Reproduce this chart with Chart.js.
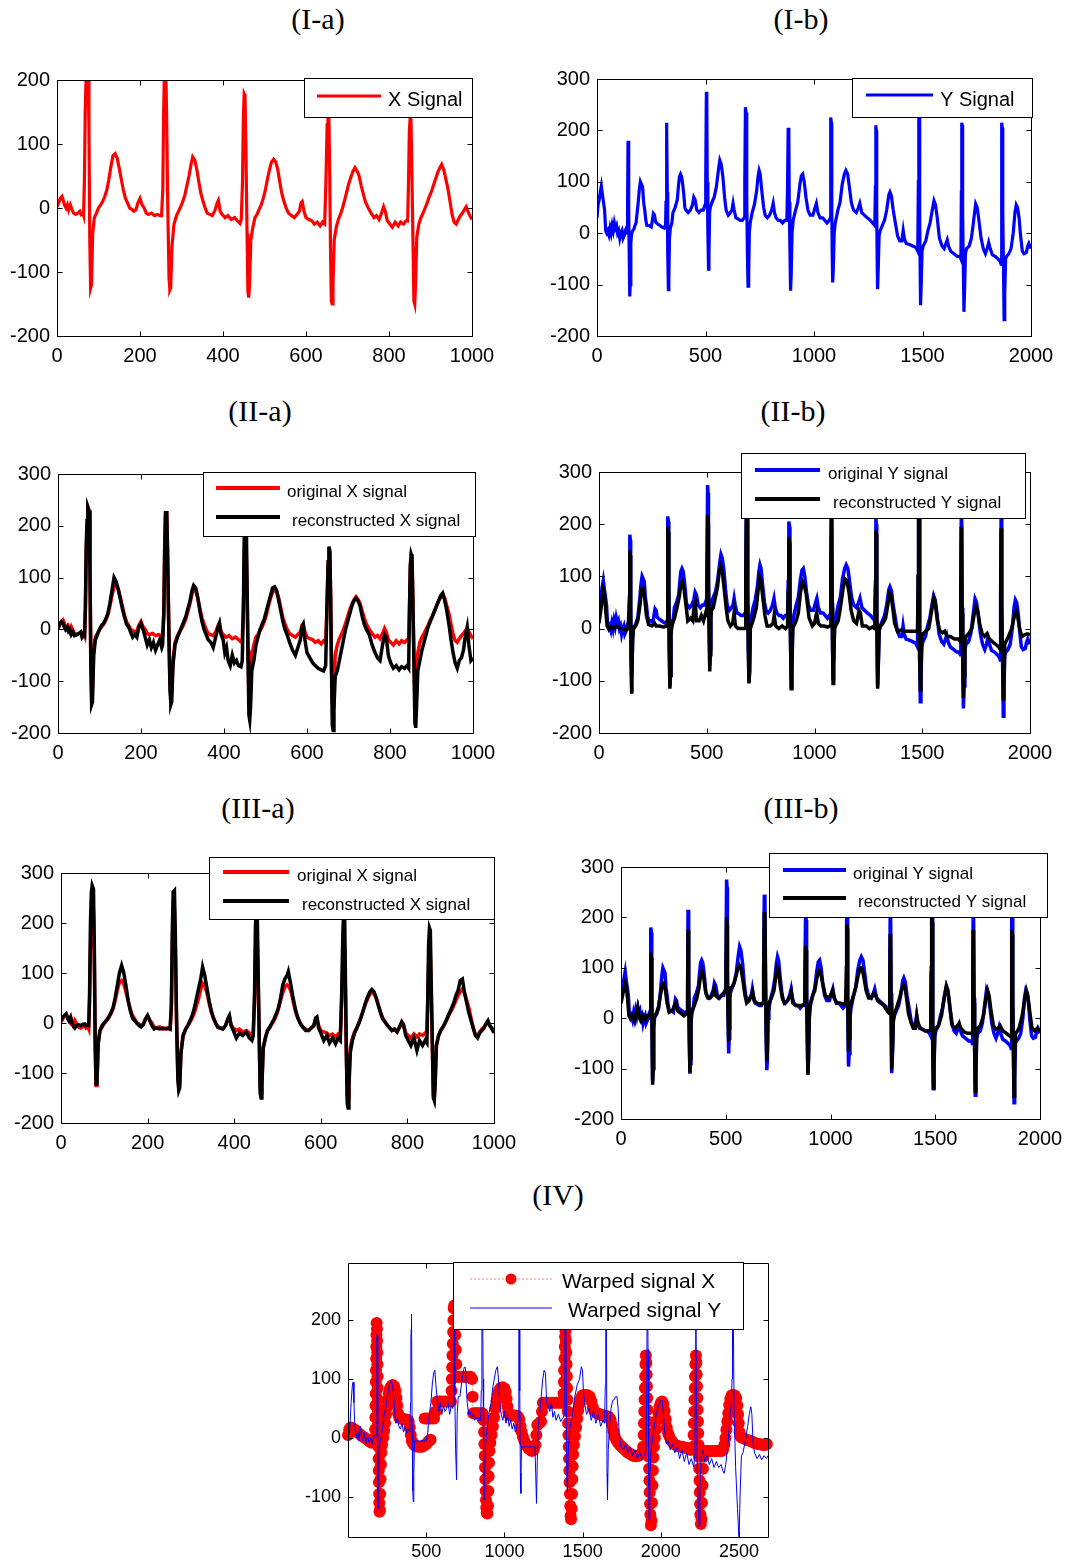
<!DOCTYPE html>
<html><head><meta charset="utf-8">
<script src="https://cdn.jsdelivr.net/npm/chart.js@4.4.1/dist/chart.umd.min.js"></script>
<style>
html,body{margin:0;padding:0;background:#fff;width:1067px;height:1561px;overflow:hidden;position:relative;}
canvas{position:absolute;}
.ttl{position:absolute;width:200px;text-align:center;font-family:"Liberation Serif","Times New Roman",serif;font-size:30px;line-height:34px;color:#000;}
</style></head><body>
<div class="ttl" style="left:218px;top:2px">(I-a)</div>
<div class="ttl" style="left:701px;top:2px">(I-b)</div>
<div class="ttl" style="left:160px;top:394px">(II-a)</div>
<div class="ttl" style="left:693px;top:394px">(II-b)</div>
<div class="ttl" style="left:158px;top:791px">(III-a)</div>
<div class="ttl" style="left:701px;top:791px">(III-b)</div>
<div class="ttl" style="left:458px;top:1178px">(IV)</div>
<script>
// ---------------- DATA ----------------
const xTicks1000 = [0, 200, 400, 600, 800, 1000];
const xTicks2000 = [0, 500, 1000, 1500, 2000];
const yTicks200 = [-200, -100, 0, 100, 200];
const yTicks300 = [-200, -100, 0, 100, 200, 300];
const warpXTicks = [500, 1000, 1500, 2000, 2500];
const warpYTicks = [-100, 0, 100, 200];

// original X signal
const xSignal = [[0,2],[4,8],[8,15],[12,18],[15,12],[18,5],[22,0],[25,5],[28,-3],[32,5],[36,-2],[40,-8],[45,-10],[50,-8],[55,-5],[58,-10],[62,-8],
[64,-12],[66,40],[68,150],[70,200],[72,232],[75,225],[77,120],[79,-50],[81,-125],[83,-120],[86,-40],[90,-15],
[95,-8],[100,0],[105,5],[110,10],[115,18],[120,28],[125,45],[130,65],[135,82],[140,85],[145,78],[150,62],[155,45],[160,28],[165,15],[170,8],[175,0],[180,-2],[185,-5],[190,-3],[195,8],[200,15],[205,5],[210,0],[215,-8],[220,-10],[228,-8],[235,-12],[242,-10],[248,-12],[252,-12],
[255,30],[257,150],[259,220],[262,222],[264,150],[267,0],[270,-110],[272,-128],[274,-125],[277,-60],[282,-25],
[288,-12],[293,-5],[298,2],[303,10],[308,20],[313,35],[318,50],[323,68],[327,80],[332,75],[337,60],[342,40],[347,22],[352,10],[357,0],[362,-8],[368,-10],[374,-12],[380,-5],[386,8],[389,12],[393,-5],[398,-10],[405,-15],[412,-12],[420,-18],[428,-15],[435,-20],[441,-24],[444,-18],
[447,40],[449,140],[451,178],[453,175],[455,100],[458,-40],[460,-130],[462,-140],[464,-120],[467,-50],[472,-30],
[477,-15],[482,-10],[487,-2],[492,5],[497,15],[502,28],[507,45],[512,60],[517,72],[522,76],[527,72],[532,60],[537,40],[542,22],[547,10],[552,0],[558,-8],[565,-12],[572,-15],[578,-10],[584,-5],[588,8],[591,10],[595,-5],[600,-15],[607,-18],[614,-20],[620,-25],[627,-22],[634,-28],[640,-22],[645,-25],
[648,40],[651,130],[653,158],[655,150],[657,60],[659,-60],[661,-145],[663,-150],[665,-120],[668,-50],[673,-30],
[678,-18],[683,-10],[688,0],[693,12],[698,25],[703,38],[708,48],[713,57],[718,63],[723,58],[728,50],[733,35],[738,22],[743,10],[750,0],[757,-8],[764,-15],[770,-12],[776,-18],[782,-8],[787,2],[791,-5],[796,-20],[802,-25],[808,-30],[815,-22],[822,-28],[828,-22],[835,-25],[841,-20],[845,-20],
[847,40],[849,120],[851,140],[853,135],[855,60],[858,-60],[860,-145],[862,-150],[864,-120],[867,-45],[872,-25],
[877,-15],[882,-8],[887,0],[892,8],[897,18],[902,25],[907,35],[912,45],[917,55],[922,62],[927,68],[932,60],[937,45],[942,30],[947,10],[952,-10],[957,-22],[962,-25],[967,-18],[972,-12],[977,-8],[982,-2],[986,2],[990,-5],[995,-12],[1000,-18]];

// original Y signal
const ySignal = [[0,30],[5,55],[10,65],[15,80],[20,92],[25,75],[30,60],[35,45],[40,5],[45,0],[50,5],[55,-3],[60,10],[65,0],[70,15],[75,5],[80,20],[85,10],[90,15],[95,0],[100,5],[105,-10],[110,0],[115,5],[120,-10],[125,-5],[130,5],[135,10],[139,0],
[141,60],[143,180],[145,170],[147,50],[149,-60],[151,-123],[153,-100],[156,-20],[160,0],
[165,5],[170,8],[175,15],[180,20],[185,40],[190,60],[195,85],[200,100],[205,95],[210,90],[215,60],[220,45],[225,25],[230,15],[240,15],[250,12],[255,25],[260,38],[265,35],[270,22],[280,18],[290,15],[300,12],[310,10],[316,15],
[318,60],[320,215],[322,205],[324,80],[326,-40],[329,-110],[331,-90],[334,-10],[338,10],
[345,20],[350,40],[360,50],[370,65],[375,90],[380,110],[385,115],[390,110],[395,95],[400,75],[405,50],[410,45],[420,40],[430,45],[440,55],[446,70],[452,65],[460,45],[470,40],[480,45],[490,45],[498,55],
[501,100],[504,275],[506,260],[508,100],[511,0],[514,-70],[516,-40],[519,40],[522,50],
[530,60],[540,70],[550,90],[560,125],[566,142],[572,135],[580,110],[588,70],[595,45],[605,35],[615,40],[622,45],[627,58],[632,45],[640,30],[650,28],[660,25],[670,25],[678,30],
[681,100],[684,245],[687,235],[690,80],[693,-40],[696,-103],[699,-80],[702,0],[706,20],
[715,40],[725,55],[735,80],[742,110],[747,122],[752,115],[760,80],[768,50],[775,35],[785,30],[795,35],[805,45],[812,58],[818,40],[825,30],[835,25],[845,25],[855,20],[865,25],[875,25],
[878,90],[881,205],[884,195],[886,60],[889,-30],[892,-112],[895,-80],[899,0],[904,25],
[915,45],[925,60],[935,95],[942,112],[948,115],[955,100],[963,70],[972,45],[982,35],[995,35],[1005,50],[1011,58],[1018,40],[1028,30],[1040,30],[1050,25],[1060,20],[1070,25],[1075,30],
[1076,120],[1078,225],[1080,215],[1082,50],[1084,-40],[1086,-96],[1089,-70],[1093,0],[1098,20],
[1110,45],[1120,60],[1130,95],[1140,115],[1147,122],[1155,115],[1163,90],[1172,60],[1182,45],[1195,40],[1205,50],[1211,58],[1220,40],[1232,35],[1245,30],[1260,25],[1270,20],[1280,15],
[1283,90],[1285,210],[1287,200],[1289,50],[1291,-50],[1293,-109],[1296,-70],[1300,-5],[1305,5],
[1315,15],[1325,25],[1335,45],[1345,75],[1350,80],[1357,72],[1365,45],[1375,20],[1385,-5],[1395,-15],[1405,-15],[1411,5],[1416,-10],[1425,-20],[1440,-22],[1455,-25],[1470,-28],[1478,-35],
[1481,100],[1483,235],[1485,225],[1487,40],[1489,-60],[1491,-140],[1494,-100],[1498,-35],[1503,-25],
[1515,-15],[1525,5],[1535,20],[1545,45],[1553,63],[1560,55],[1568,30],[1578,-10],[1590,-25],[1600,-30],[1608,-20],[1614,-13],[1620,-25],[1630,-35],[1645,-40],[1660,-45],[1672,-45],[1677,-50],
[1679,80],[1681,215],[1683,210],[1685,40],[1688,-60],[1691,-153],[1694,-110],[1698,-40],[1703,-30],
[1715,-25],[1725,-10],[1733,15],[1740,40],[1745,57],[1752,50],[1760,25],[1770,-10],[1780,-30],[1790,-40],[1798,-30],[1805,-18],[1812,-30],[1822,-42],[1835,-45],[1848,-50],[1858,-55],[1862,-60],
[1864,80],[1866,215],[1868,205],[1870,40],[1873,-60],[1876,-168],[1879,-120],[1883,-50],[1888,-45],
[1898,-40],[1908,-30],[1918,0],[1926,40],[1932,55],[1938,50],[1945,30],[1952,-5],[1960,-35],[1968,-40],[1978,-38],[1985,-25],[1990,-20],[1995,-25],[2000,-30]];

// reconstructed X signal, panel II-a
const xRecon2 = [[0,2],[4,10],[8,15],[12,12],[15,5],[18,0],[22,5],[25,-3],[28,0],[32,-10],[36,-5],[40,-12],[45,-10],[50,-8],[55,-5],[58,-15],[62,-10],
[64,-12],[66,40],[68,160],[70,210],[72,237],[75,230],[77,120],[79,-60],[81,-145],[83,-140],[86,-50],[90,-20],
[95,-10],[100,0],[105,8],[110,12],[115,20],[120,30],[125,50],[130,75],[135,100],[140,92],[145,78],[150,60],[155,40],[160,25],[165,10],[170,5],[175,-5],[180,-15],[185,-10],[190,-15],[195,5],[200,12],[205,0],[210,-15],[215,-30],[220,-20],[225,-35],[230,-25],[235,-40],[240,-30],[245,-20],[250,-35],[252,-30],
[255,30],[257,150],[259,225],[262,225],[264,150],[267,0],[270,-120],[272,-145],[274,-140],[277,-70],[282,-30],
[288,-15],[293,-5],[298,5],[303,15],[308,25],[313,40],[318,55],[323,75],[327,85],[332,80],[337,60],[342,35],[347,15],[352,0],[357,-10],[362,-20],[368,-25],[374,-35],[380,-15],[386,5],[389,12],[393,-10],[398,-20],[402,-45],[406,-35],[410,-60],[415,-70],[420,-50],[425,-65],[430,-60],[435,-70],[441,-72],[444,-60],
[447,60],[449,200],[451,265],[453,260],[455,120],[458,-60],[460,-165],[462,-175],[464,-150],[467,-80],[472,-60],
[477,-30],[482,-15],[487,0],[492,10],[497,20],[502,35],[507,50],[512,65],[517,80],[522,82],[527,75],[532,55],[537,35],[542,15],[547,0],[552,-10],[558,-25],[565,-40],[572,-50],[578,-35],[584,-20],[588,5],[591,10],[595,-20],[600,-45],[607,-55],[614,-65],[620,-70],[627,-75],[634,-78],[640,-80],[645,-70],
[648,40],[651,130],[653,160],[655,150],[657,60],[659,-80],[661,-185],[663,-195],[665,-150],[668,-90],[673,-80],
[678,-60],[683,-40],[688,-20],[693,0],[698,15],[703,30],[708,45],[713,55],[718,60],[723,55],[728,45],[733,25],[738,10],[743,0],[750,-10],[757,-30],[764,-45],[770,-55],[776,-60],[782,-30],[787,-10],[791,-15],[796,-50],[802,-65],[808,-75],[815,-70],[822,-78],[828,-72],[835,-75],[841,-70],[845,-75],
[847,40],[849,125],[851,145],[853,140],[855,60],[858,-80],[860,-180],[862,-190],[864,-150],[867,-80],[872,-60],
[877,-40],[882,-25],[887,-10],[892,5],[897,15],[902,25],[907,35],[912,45],[917,55],[922,65],[927,70],[932,55],[937,35],[942,10],[947,-20],[952,-45],[957,-65],[962,-75],[967,-60],[972,-55],[977,-40],[982,-10],[986,5],[990,-30],[995,-60],[1000,-55]];

// reconstructed Y signal, panel II-b
const yRecon2 = [[0,10],[10,40],[20,75],[25,70],[32,30],[38,5],[45,0],[55,3],[65,0],[80,5],[95,0],[110,0],[125,-3],[135,0],[139,0],
[141,50],[143,150],[145,140],[147,40],[149,-60],[151,-125],[153,-100],[156,-20],[160,0],
[170,5],[180,15],[190,45],[198,75],[205,78],[212,60],[220,25],[230,8],[245,5],[258,10],[265,5],[280,5],[300,3],[316,5],
[318,50],[320,195],[322,185],[324,70],[326,-40],[329,-115],[331,-90],[334,-10],[338,5],
[350,20],[362,40],[372,60],[380,85],[387,90],[395,75],[405,40],[412,15],[425,20],[435,15],[442,45],[447,50],[452,15],[465,15],[475,25],[485,15],[495,30],[498,25],
[501,90],[504,218],[506,200],[508,80],[511,0],[514,-82],[516,-50],[519,20],[522,35],
[530,40],[540,60],[550,80],[558,110],[565,120],[572,110],[580,80],[590,40],[598,15],[610,5],[620,10],[627,30],[633,5],[645,0],[660,0],[678,0],
[681,90],[684,230],[687,220],[690,60],[693,-40],[696,-105],[699,-80],[702,0],[706,5],
[718,20],[730,40],[740,80],[745,97],[752,90],[760,60],[770,25],[780,5],[795,5],[808,10],[813,25],[820,5],[835,0],[850,5],[865,0],[875,5],
[878,70],[881,175],[884,165],[886,50],[889,-30],[892,-115],[895,-80],[899,0],[904,5],
[915,15],[925,30],[935,70],[945,90],[952,85],[962,65],[975,20],[990,5],[1000,10],[1010,30],[1018,10],[1030,5],[1045,5],[1060,3],[1072,5],
[1076,110],[1078,215],[1080,205],[1082,40],[1084,-40],[1086,-105],[1089,-70],[1093,0],[1098,5],
[1110,15],[1120,40],[1132,75],[1142,95],[1150,92],[1160,70],[1170,35],[1182,15],[1195,10],[1207,35],[1213,30],[1222,5],[1240,5],[1255,0],[1270,3],[1280,0],
[1283,80],[1285,188],[1287,180],[1289,40],[1291,-50],[1293,-115],[1296,-70],[1300,-5],[1305,5],
[1315,8],[1330,20],[1340,45],[1348,68],[1355,65],[1363,40],[1372,10],[1385,-5],[1400,-3],[1415,-5],[1430,-5],[1450,-5],[1470,-5],[1478,-5],
[1481,100],[1483,240],[1485,230],[1487,40],[1489,-60],[1491,-117],[1494,-80],[1498,-15],[1503,-10],
[1515,-5],[1530,0],[1542,30],[1553,58],[1560,50],[1570,15],[1582,-5],[1595,-8],[1605,-5],[1615,-15],[1630,-15],[1650,-20],[1668,-20],[1677,-25],
[1679,80],[1681,195],[1683,185],[1685,30],[1688,-60],[1691,-133],[1694,-90],[1698,-25],[1703,-15],
[1715,-10],[1730,0],[1742,30],[1750,42],[1757,35],[1766,10],[1778,-10],[1790,-15],[1800,-10],[1812,-20],[1825,-25],[1840,-30],[1855,-35],[1862,-40],
[1864,70],[1866,192],[1868,180],[1870,30],[1873,-60],[1876,-135],[1879,-90],[1883,-30],[1888,-25],
[1900,-15],[1915,0],[1928,25],[1935,33],[1942,25],[1952,0],[1962,-15],[1975,-12],[1988,-10],[2000,-12]];

// reconstructed X signal, panel III-a
const xRecon3 = [[0,5],[4,12],[8,15],[12,18],[15,10],[18,5],[22,12],[25,0],[28,-5],[32,-10],[36,-5],[40,-3],[45,-5],[50,-3],[55,-2],[58,-5],[62,-5],
[64,-5],[66,60],[68,200],[70,260],[72,275],[75,268],[77,150],[79,-40],[81,-122],[83,-120],[86,-40],[90,-15],
[95,-5],[100,0],[105,5],[110,12],[115,20],[120,30],[125,50],[130,75],[135,100],[140,115],[145,100],[150,75],[155,45],[160,25],[165,10],[170,5],[175,0],[180,-5],[185,-8],[190,-3],[195,8],[200,15],[205,5],[210,-5],[215,-12],[220,-10],[228,-12],[235,-10],[242,-12],[248,-10],[252,-12],
[255,40],[257,180],[259,262],[262,265],[264,180],[267,0],[270,-115],[272,-135],[274,-130],[277,-60],[282,-25],
[288,-12],[293,-5],[298,5],[303,15],[308,30],[313,50],[318,70],[323,90],[327,112],[332,95],[337,70],[342,45],[347,25],[352,10],[357,0],[362,-8],[368,-10],[374,-12],[380,-5],[386,10],[389,15],[393,-5],[398,-15],[405,-30],[412,-20],[420,-25],[428,-18],[435,-30],[441,-35],[444,-25],
[447,60],[449,190],[451,240],[453,235],[455,120],[458,-40],[460,-140],[462,-150],[464,-125],[467,-50],[472,-30],
[477,-15],[482,-8],[487,0],[492,8],[497,18],[502,30],[507,50],[512,75],[517,88],[522,95],[525,103],[530,80],[535,55],[542,25],[547,10],[552,0],[558,-8],[565,-15],[572,-15],[578,-10],[584,-5],[588,10],[591,12],[595,-10],[600,-20],[607,-35],[614,-25],[620,-40],[627,-30],[634,-42],[640,-30],[645,-35],
[648,50],[651,180],[653,230],[655,220],[657,80],[659,-60],[661,-160],[663,-170],[665,-130],[668,-60],[673,-35],
[678,-20],[683,-10],[688,0],[693,12],[698,25],[703,40],[708,52],[713,62],[718,67],[723,62],[728,50],[733,35],[738,20],[743,8],[750,0],[757,-8],[764,-15],[770,-12],[776,-18],[782,-8],[787,2],[791,-3],[796,-25],[802,-35],[808,-45],[815,-30],[822,-55],[828,-35],[835,-45],[841,-35],[845,-40],
[847,50],[849,160],[851,190],[853,185],[855,80],[858,-60],[860,-150],[862,-155],[864,-125],[867,-45],[872,-25],
[877,-15],[882,-8],[887,0],[892,10],[897,20],[902,30],[907,40],[912,55],[917,65],[922,85],[927,88],[932,60],[937,40],[942,20],[947,5],[952,-10],[957,-25],[962,-30],[967,-20],[972,-15],[977,-10],[982,0],[986,5],[990,-5],[995,-10],[1000,-20]];

// reconstructed Y signal, panel III-b
const yRecon3 = [[0,30],[10,50],[20,70],[25,65],[32,35],[38,5],[45,0],[55,5],[65,-5],[75,15],[80,22],[88,0],[95,-5],[105,5],[115,-3],[125,5],[135,5],[139,10],
[141,50],[143,130],[145,120],[147,30],[149,-60],[151,-132],[153,-100],[156,-15],[160,5],
[170,10],[180,25],[190,50],[198,68],[205,70],[212,55],[220,30],[230,12],[245,15],[255,25],[262,30],[270,15],[285,10],[300,5],[316,10],
[318,50],[320,176],[322,165],[324,60],[326,-40],[329,-108],[331,-80],[334,-5],[338,15],
[350,25],[362,40],[372,60],[380,85],[387,93],[395,80],[405,50],[415,40],[425,40],[435,45],[445,58],[452,45],[465,40],[478,45],[490,50],[498,55],
[501,90],[504,200],[506,185],[508,70],[511,10],[514,-46],[516,-20],[519,50],[522,60],
[530,62],[540,70],[550,85],[558,100],[565,105],[572,100],[582,75],[592,45],[600,30],[612,35],[622,45],[628,52],[635,35],[648,30],[662,28],[678,30],
[681,90],[684,210],[687,200],[690,60],[693,-30],[696,-85],[699,-60],[702,20],[706,30],
[718,40],[730,55],[740,85],[745,100],[752,95],[760,65],[770,40],[780,30],[795,35],[808,45],[813,52],[820,30],[835,25],[850,25],[865,25],[875,28],
[878,70],[881,143],[884,135],[886,40],[889,-30],[892,-112],[895,-80],[899,10],[904,30],
[915,45],[925,55],[935,80],[945,95],[952,92],[962,70],[975,45],[990,40],[1000,45],[1010,55],[1018,40],[1030,30],[1045,30],[1060,28],[1072,30],
[1076,100],[1078,186],[1080,178],[1082,40],[1084,-20],[1086,-66],[1089,-40],[1093,20],[1098,30],
[1110,45],[1120,60],[1132,85],[1142,100],[1150,100],[1160,80],[1170,55],[1182,40],[1195,40],[1207,50],[1213,48],[1225,35],[1240,30],[1255,25],[1270,15],[1280,10],
[1283,70],[1285,167],[1287,158],[1289,30],[1291,-40],[1293,-102],[1296,-60],[1300,-5],[1305,10],
[1315,20],[1330,40],[1340,58],[1348,66],[1355,62],[1363,40],[1372,10],[1385,-10],[1395,-20],[1405,-20],[1412,5],[1418,-10],[1430,-20],[1450,-25],[1470,-25],[1478,-25],
[1481,90],[1483,200],[1485,190],[1487,40],[1489,-60],[1491,-138],[1494,-90],[1498,-25],[1503,-20],
[1515,-15],[1530,5],[1542,40],[1553,64],[1560,55],[1570,20],[1582,-15],[1595,-20],[1605,-15],[1614,-10],[1622,-20],[1640,-28],[1655,-30],[1668,-30],[1677,-32],
[1679,70],[1681,175],[1683,165],[1685,30],[1688,-60],[1691,-145],[1694,-90],[1698,-25],[1703,-20],
[1715,-15],[1730,5],[1742,40],[1750,55],[1757,45],[1766,15],[1778,-15],[1790,-22],[1800,-20],[1810,-15],[1822,-25],[1840,-30],[1855,-35],[1862,-38],
[1864,70],[1866,175],[1868,165],[1870,30],[1873,-60],[1876,-155],[1879,-90],[1883,-30],[1888,-28],
[1900,-20],[1915,5],[1928,40],[1935,55],[1942,45],[1952,10],[1962,-20],[1975,-25],[1988,-20],[2000,-25]];

// warped signal X (markers), panel IV
const warpX = [[0,5],[8,15],[18,18],[30,16],[42,14],[55,12],[68,8],[82,5],[96,2],[110,0],[124,-3],[138,-6],[150,-8],[160,-6],[170,0],
[174,15],[175,35],[176,55],[177,75],[178,95],[179,115],[180,135],[181,155],[182,175],[183,195],[185,185],[186,165],[187,145],[188,125],[189,105],[190,85],[191,65],[192,45],[193,25],[194,5],[195,-15],[196,-35],[197,-55],[198,-75],[199,-95],[200,-110],[201,-125],[204,-122],
[206,-95],[208,-70],[210,-45],[213,-25],[218,-12],[225,0],[231,12],[237,25],[243,40],[249,52],[255,65],[261,76],[268,84],[276,88],[285,90],[295,88],[304,80],[310,68],[315,55],[320,42],[327,35],[340,33],[353,32],[366,32],[378,31],[388,28],[395,18],[401,5],[408,-5],[418,-10],[430,-13],[444,-15],[458,-15],[472,-15],[486,-13],[500,-10],[514,-6],[528,-3],
[490,33],[505,33],[520,33],[535,33],[550,33],[560,45],
[570,62],[585,62],[600,62],[615,62],[630,62],[645,62],[658,62],
[662,80],[664,100],[666,120],[668,140],[670,160],[672,180],[674,200],[676,220],[679,225],[683,200],[686,175],[689,150],[692,125],[695,104],
[705,104],[718,104],[731,104],[744,104],[757,104],[770,104],[783,104],[793,100],
[797,70],[800,42],[812,42],[824,42],[836,42],[848,42],[860,42],[868,30],
[870,10],[872,-10],[874,-30],[876,-50],[878,-70],[880,-90],[882,-105],[884,-118],[887,-127],[891,-128],[895,-115],
[897,-90],[899,-65],[901,-42],[904,-22],[910,-8],[918,5],[926,20],[934,35],[942,50],[950,63],[958,74],[966,81],[976,85],[988,86],[1000,84],[1008,78],[1014,66],[1019,54],[1025,44],[1033,39],[1046,38],[1059,38],[1072,38],[1085,37],[1095,32],[1103,20],[1110,10],[1118,2],[1128,-5],[1140,-12],[1152,-17],[1164,-20],[1176,-22],[1188,-20],[1198,-12],[1204,5],[1210,22],[1222,25],[1234,28],[1240,45],[1246,60],[1260,60],[1274,60],[1288,60],[1302,60],[1316,60],[1330,60],[1344,60],[1358,60],[1372,60],
[1378,75],[1380,95],[1382,115],[1384,135],[1386,155],[1388,172],[1390,182],[1393,165],[1395,145],[1397,125],[1399,105],[1401,85],[1403,65],[1405,45],[1407,25],[1409,5],[1411,-15],[1413,-35],[1415,-55],[1417,-75],[1419,-95],[1421,-115],[1423,-132],[1426,-138],[1430,-120],
[1432,-95],[1434,-70],[1436,-48],[1439,-28],[1444,-12],[1451,3],[1458,18],[1465,33],[1472,47],[1480,58],[1488,67],[1498,72],[1510,73],[1522,73],[1534,72],[1546,70],[1556,62],[1565,52],[1575,46],[1588,43],[1601,41],[1614,40],[1627,38],[1640,38],[1653,37],[1666,36],[1678,32],[1688,22],[1696,12],[1704,3],[1714,-3],[1726,-8],[1738,-12],[1750,-15],[1762,-18],[1774,-21],[1786,-24],[1798,-26],[1810,-28],[1822,-30],[1834,-31],[1846,-31],[1858,-30],[1870,-28],[1880,-25],[1887,-15],
[1890,5],[1892,25],[1894,45],[1896,65],[1898,85],[1900,105],[1902,125],[1904,140],[1907,128],[1909,108],[1911,88],[1913,68],[1915,48],[1917,28],[1919,8],[1921,-12],[1923,-32],[1925,-52],[1927,-72],[1929,-92],[1931,-112],[1933,-130],[1936,-148],[1940,-140],
[1943,-110],[1946,-80],[1949,-55],[1952,-33],[1956,-15],[1962,0],[1969,15],[1976,30],[1984,43],[1992,54],[2000,60],[2008,62],[2016,58],[2024,46],[2031,32],[2038,18],[2046,8],[2055,2],[2066,-4],[2078,-8],[2090,-11],[2102,-13],[2114,-14],[2126,-15],[2138,-15],[2150,-16],[2162,-17],[2174,-18],[2186,-20],[2198,-20],[2206,-15],
[2209,5],[2211,25],[2213,45],[2215,65],[2217,85],[2219,105],[2221,125],[2224,140],[2227,128],[2229,108],[2231,88],[2233,68],[2235,48],[2237,28],[2239,8],[2241,-12],[2243,-32],[2245,-52],[2247,-72],[2249,-92],[2251,-112],[2253,-130],[2256,-146],[2260,-138],
[2263,-110],[2266,-80],[2269,-52],[2273,-32],[2280,-22],[2292,-22],[2304,-22],[2316,-22],[2328,-22],[2340,-22],[2352,-22],[2364,-22],[2376,-22],[2388,-22],[2398,-20],[2406,-12],[2413,0],[2419,14],[2425,28],[2431,42],[2437,56],[2444,66],[2452,72],[2462,73],[2472,72],[2482,68],[2489,55],[2494,40],[2498,25],[2503,10],[2510,2],[2522,0],[2534,-1],[2546,-3],[2558,-4],[2570,-5],[2582,-6],[2594,-8],[2606,-9],[2618,-10],[2630,-10],[2642,-11],[2654,-12],[2666,-12],[2678,-10]];

// warped signal Y (thin line), panel IV
const warpY = [[0,0],[10,10],[20,60],[28,90],[33,95],[38,60],[42,30],[48,10],[55,0],[62,15],[70,-5],[78,20],[85,5],[95,-5],[105,10],[115,-10],[125,5],[135,-8],[145,0],[155,-10],[165,5],[175,0],[183,10],[185,175],[187,175],[190,-110],[193,-120],[197,-60],[200,-20],[205,-5],[212,0],[222,20],[232,40],[245,55],[255,75],[265,90],[272,97],[280,95],[290,80],[300,40],[306,25],[315,35],[325,20],[335,15],[345,25],[355,10],[365,20],[375,8],[385,15],[395,10],[400,60],[402,170],[404,185],[406,210],[410,20],[414,-90],[417,-108],[421,-60],[425,-5],[440,-5],[460,-5],[480,-5],[500,-5],[510,10],[520,40],[530,60],[540,95],[548,110],[555,115],[562,90],[572,60],[582,45],[590,60],[600,40],[610,55],[620,45],[630,50],[640,60],[650,40],[660,55],[670,50],[676,70],[679,250],[681,260],[684,80],[688,-20],[694,-71],[698,40],[705,70],[715,70],[725,90],[735,110],[743,120],[750,120],[755,95],[762,60],[772,40],[780,45],[790,35],[800,40],[810,30],[820,35],[830,28],[840,35],[848,30],[852,80],[856,200],[860,250],[864,100],[867,-60],[870,-105],[874,-60],[880,-10],[890,20],[900,40],[915,60],[925,85],[935,100],[945,115],[955,121],[962,100],[970,60],[980,40],[990,30],[1000,45],[1010,25],[1020,40],[1030,20],[1040,30],[1050,15],[1060,25],[1070,10],[1080,20],[1088,30],[1092,230],[1095,260],[1098,80],[1102,-60],[1105,-94],[1109,-15],[1120,-15],[1140,-15],[1160,-15],[1180,-15],[1195,-15],[1200,-60],[1205,-111],[1210,-40],[1216,20],[1225,40],[1235,70],[1245,100],[1254,115],[1262,110],[1270,60],[1280,55],[1290,45],[1300,60],[1310,35],[1320,45],[1330,30],[1345,40],[1360,28],[1375,35],[1385,40],[1388,290],[1392,250],[1398,-60],[1403,-94],[1408,-20],[1420,20],[1435,40],[1450,70],[1465,90],[1480,100],[1492,121],[1499,115],[1505,80],[1515,55],[1525,40],[1540,50],[1555,30],[1570,45],[1585,25],[1600,40],[1615,20],[1630,30],[1640,25],[1645,90],[1648,300],[1652,200],[1656,-60],[1659,-105],[1664,-20],[1672,20],[1682,50],[1692,64],[1702,65],[1710,70],[1720,70],[1727,50],[1733,10],[1745,-15],[1760,-20],[1775,-10],[1790,-25],[1805,-15],[1820,-30],[1835,-20],[1850,-35],[1865,-25],[1880,-35],[1895,-30],[1905,-20],[1910,100],[1914,300],[1918,150],[1922,-80],[1925,-139],[1930,-60],[1938,-20],[1948,0],[1958,20],[1970,40],[1985,55],[1998,64],[2008,64],[2015,45],[2025,10],[2035,-10],[2045,-5],[2060,-20],[2075,-10],[2090,-25],[2105,-15],[2120,-35],[2135,-20],[2150,-40],[2165,-25],[2180,-45],[2195,-35],[2210,-49],[2218,-30],[2221,150],[2223,300],[2227,100],[2233,-60],[2240,-120],[2245,-150],[2250,-80],[2258,-30],[2268,-20],[2280,-40],[2295,-30],[2310,-45],[2325,-35],[2340,-50],[2355,-40],[2370,-50],[2385,-45],[2395,-55],[2405,-60],[2415,-45],[2425,-20],[2435,10],[2443,40],[2450,55],[2455,100],[2458,300],[2462,250],[2468,50],[2478,-50],[2490,-120],[2500,-175],[2506,-100],[2515,-30],[2525,-25],[2540,-5],[2555,20],[2565,40],[2575,53],[2582,40],[2590,-10],[2600,-26],[2615,-35],[2630,-28],[2645,-37],[2660,-30],[2675,-35],[2685,-30]];

// ---------------- RENDERING ----------------
const AX_W = 60, AX_H = 40, PAD_T = 20, PAD_R = 36;
const xy = a => a.map(p => ({x: p[0], y: p[1]}));

const matlabFrame = {
  id: 'matlabFrame',
  afterDatasetsDraw(chart, args, o) {
    const ctx = chart.ctx, a = chart.chartArea, sx = chart.scales.x, sy = chart.scales.y;
    ctx.save();
    ctx.strokeStyle = '#000'; ctx.lineWidth = 1; ctx.setLineDash([]);
    const L = Math.round(a.left) + 0.5, T = Math.round(a.top) + 0.5, R = Math.round(a.right) + 0.5, B = Math.round(a.bottom) + 0.5;
    ctx.beginPath();
    ctx.rect(L, T, R - L, B - T);
    const tl = 5;
    sx.ticks.forEach(t => { const p = Math.round(sx.getPixelForValue(t.value)) + 0.5;
      ctx.moveTo(p, B); ctx.lineTo(p, B - tl); ctx.moveTo(p, T); ctx.lineTo(p, T + tl); });
    sy.ticks.forEach(t => { const p = Math.round(sy.getPixelForValue(t.value)) + 0.5;
      ctx.moveTo(L, p); ctx.lineTo(L + tl, p); ctx.moveTo(R, p); ctx.lineTo(R - tl, p); });
    ctx.stroke();
    const lg = o.legend;
    if (lg) {
      const ox = o.ox, oy = o.oy;
      const [x1, y1, x2, y2] = lg.box;
      ctx.fillStyle = '#fff';
      ctx.fillRect(x1 - ox, y1 - oy, x2 - x1, y2 - y1);
      ctx.strokeStyle = '#000'; ctx.lineWidth = 1;
      ctx.strokeRect(x1 - ox + 0.5, y1 - oy + 0.5, x2 - x1, y2 - y1);
      lg.items.forEach(it => {
        ctx.beginPath();
        ctx.strokeStyle = it.color; ctx.lineWidth = it.lw;
        ctx.setLineDash(it.dash || []);
        ctx.moveTo(it.l1 - ox, it.ly - oy); ctx.lineTo(it.l2 - ox, it.ly - oy);
        ctx.stroke();
        ctx.setLineDash([]);
        if (it.marker) {
          ctx.beginPath(); ctx.fillStyle = it.markerColor;
          ctx.arc(it.marker - ox, it.ly - oy, 5.5, 0, Math.PI * 2); ctx.fill();
        }
        ctx.fillStyle = '#000';
        ctx.font = lg.font;
        ctx.textBaseline = 'alphabetic'; ctx.textAlign = 'left';
        ctx.fillText(it.text, it.tx - ox, it.ty - oy);
      });
    }
    ctx.restore();
  }
};

function makePanel(p) {
  const cv = document.createElement('canvas');
  const cw = p.R - p.L + AX_W + PAD_R, ch = p.B - p.T + PAD_T + AX_H;
  const ox = p.L - AX_W, oy = p.T - PAD_T;
  cv.width = cw; cv.height = ch;
  cv.style.left = ox + 'px'; cv.style.top = oy + 'px';
  cv.style.width = cw + 'px'; cv.style.height = ch + 'px';
  document.body.appendChild(cv);
  const tickFont = {family: "'Liberation Sans', Arial, sans-serif", size: p.fs};
  new Chart(cv, {
    type: 'line',
    data: {datasets: p.datasets},
    options: {
      responsive: false, maintainAspectRatio: false, animation: false, devicePixelRatio: 1,
      layout: {padding: {left: 0, top: PAD_T, right: PAD_R, bottom: 0}},
      events: [],
      plugins: {legend: {display: false}, tooltip: {enabled: false}, matlabFrame: {ox, oy, legend: p.legend}},
      elements: {point: {radius: 0}, line: {tension: 0}},
      scales: {
        x: {type: 'linear', min: p.xMin, max: p.xMax,
            grid: {display: false, drawTicks: false}, border: {display: false},
            afterBuildTicks: s => { s.ticks = p.xTicks.map(v => ({value: v})); },
            afterFit: s => { s.height = AX_H; },
            ticks: {color: '#000', font: tickFont, padding: p.xPad, maxRotation: 0, autoSkip: false, callback: v => String(v)}},
        y: {type: 'linear', min: p.yMin, max: p.yMax,
            grid: {display: false, drawTicks: false}, border: {display: false},
            afterBuildTicks: s => { s.ticks = p.yTicks.map(v => ({value: v})); },
            afterFit: s => { s.width = AX_W; },
            ticks: {color: '#000', font: tickFont, padding: 7, autoSkip: false, callback: v => String(v)}}
      }
    },
    plugins: [matlabFrame]
  });
}

const RED = '#ff0000', BLUE = '#0000ff', BLACK = '#000000';
const legFont = "17px 'Liberation Sans', Arial, sans-serif";
const ds = (d, c, w, order) => ({data: xy(d), borderColor: c, borderWidth: w, pointRadius: 0, clip: 0, order: order, fill: false});

// (I-a)
makePanel({L: 57, T: 80, R: 472, B: 336, xMin: 0, xMax: 1000, yMin: -200, yMax: 200, xTicks: xTicks1000, yTicks: yTicks200, fs: 20, xPad: 8,
  datasets: [ds(xSignal, RED, 3.2, 0)],
  legend: {box: [304, 78, 472, 117], font: "20px 'Liberation Sans', Arial, sans-serif",
    items: [{text: 'X Signal', color: RED, lw: 3, ly: 96, l1: 317, l2: 381, tx: 388, ty: 106}]}});
// (I-b)
makePanel({L: 597, T: 79, R: 1031, B: 336, xMin: 0, xMax: 2000, yMin: -200, yMax: 300, xTicks: xTicks2000, yTicks: yTicks300, fs: 20, xPad: 8,
  datasets: [ds(ySignal, BLUE, 3.2, 0)],
  legend: {box: [852, 78, 1032, 117], font: "20px 'Liberation Sans', Arial, sans-serif",
    items: [{text: 'Y Signal', color: BLUE, lw: 3, ly: 95, l1: 866, l2: 933, tx: 940, ty: 106}]}});
// (II-a)
makePanel({L: 58, T: 474, R: 473, B: 733, xMin: 0, xMax: 1000, yMin: -200, yMax: 300, xTicks: xTicks1000, yTicks: yTicks300, fs: 20, xPad: 8,
  datasets: [ds(xSignal, RED, 3.5, 1), ds(xRecon2, BLACK, 3.5, 0)],
  legend: {box: [203, 472, 475, 536], font: legFont,
    items: [{text: 'original X signal', color: RED, lw: 4, ly: 488, l1: 216, l2: 280, tx: 287, ty: 497},
            {text: 'reconstructed X signal', color: BLACK, lw: 4, ly: 517, l1: 216, l2: 280, tx: 292, ty: 526}]}});
// (II-b)
makePanel({L: 599, T: 472, R: 1030, B: 733, xMin: 0, xMax: 2000, yMin: -200, yMax: 300, xTicks: xTicks2000, yTicks: yTicks300, fs: 20, xPad: 8,
  datasets: [ds(ySignal, BLUE, 3.5, 1), ds(yRecon2, BLACK, 3.5, 0)],
  legend: {box: [741, 453, 1025, 518], font: legFont,
    items: [{text: 'original Y signal', color: BLUE, lw: 4, ly: 470, l1: 755, l2: 820, tx: 828, ty: 479},
            {text: 'reconstructed Y signal', color: BLACK, lw: 4, ly: 499, l1: 755, l2: 820, tx: 833, ty: 508}]}});
// (III-a)
makePanel({L: 61, T: 873, R: 494, B: 1123, xMin: 0, xMax: 1000, yMin: -200, yMax: 300, xTicks: xTicks1000, yTicks: yTicks300, fs: 20, xPad: 8,
  datasets: [ds(xSignal, RED, 3.5, 1), ds(xRecon3, BLACK, 3.5, 0)],
  legend: {box: [209, 857, 494, 919], font: legFont,
    items: [{text: 'original X signal', color: RED, lw: 4, ly: 872, l1: 223, l2: 289, tx: 297, ty: 881},
            {text: 'reconstructed X signal', color: BLACK, lw: 4, ly: 901, l1: 223, l2: 289, tx: 302, ty: 910}]}});
// (III-b)
makePanel({L: 621, T: 867, R: 1040, B: 1119, xMin: 0, xMax: 2000, yMin: -200, yMax: 300, xTicks: xTicks2000, yTicks: yTicks300, fs: 20, xPad: 8,
  datasets: [ds(ySignal, BLUE, 3.5, 1), ds(yRecon3, BLACK, 3.5, 0)],
  legend: {box: [769, 853, 1047, 917], font: legFont,
    items: [{text: 'original Y signal', color: BLUE, lw: 4, ly: 870, l1: 783, l2: 846, tx: 853, ty: 879},
            {text: 'reconstructed Y signal', color: BLACK, lw: 4, ly: 898, l1: 783, l2: 846, tx: 858, ty: 907}]}});
// (IV)
makePanel({L: 348, T: 1263, R: 768, B: 1537, xMin: 0, xMax: 2685, yMin: -168, yMax: 297, xTicks: warpXTicks, yTicks: warpYTicks, fs: 18, xPad: 4,
  datasets: [
    {data: xy(warpX), borderColor: 'rgba(255,0,0,0.45)', borderWidth: 1, borderDash: [2, 2], pointRadius: 6, pointBorderWidth: 0,
     pointBackgroundColor: RED, clip: 7, order: 1, fill: false},
    {data: xy(warpY), borderColor: BLUE, borderWidth: 1, pointRadius: 0, clip: 0, order: 0, fill: false}],
  legend: {box: [453, 1262, 743, 1329], font: "21px 'Liberation Sans', Arial, sans-serif",
    items: [{text: 'Warped signal X', color: 'rgba(255,0,0,0.5)', lw: 1, dash: [2, 2], marker: 511, markerColor: RED, ly: 1279, l1: 470, l2: 552, tx: 562, ty: 1288},
            {text: 'Warped signal Y', color: BLUE, lw: 1, ly: 1308, l1: 470, l2: 552, tx: 568, ty: 1317}]}});
</script>
</body></html>
